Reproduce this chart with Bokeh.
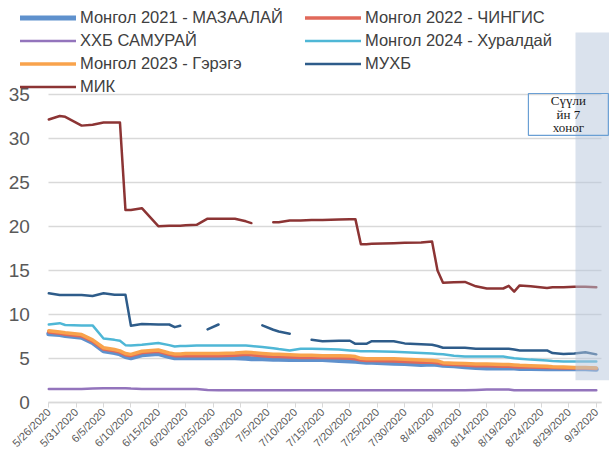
import math
import pandas as pd
from bokeh.plotting import figure
from bokeh.models import ColumnDataSource, FixedTicker, Legend, LegendItem, Range1d
from bokeh.core.properties import value
from bokeh.embed import file_html
from bokeh.resources import INLINE

nan = float("nan")

dates = ["5/26", "5/28", "5/29", "6/1", "6/3", "6/5", "6/7", "6/8", "6/9", "6/10",
         "6/12", "6/15", "6/17", "6/18", "6/19", "6/20", "6/22", "6/24", "6/26", "6/29",
         "7/1", "7/2", "7/4", "7/6", "7/7", "7/9", "7/11", "7/13", "7/15", "7/18",
         "7/20", "7/21", "7/22", "7/23", "7/24", "7/28", "7/30", "8/2", "8/4", "8/5",
         "8/6", "8/8", "8/10", "8/12", "8/14", "8/17", "8/18", "8/19", "8/20", "8/22",
         "8/25", "8/26", "8/28", "8/30", "9/1", "9/3"]

mongol_2021 = [7.8, 7.7, 7.6, 7.4, 6.8, 5.85, 5.65, 5.5, 5.2, 5.05,
               5.4, 5.55, 5.2, 5.05, 5.05, 5.05, 5.05, 5.05, 5.05, 5.05,
               5.0, 4.95, 4.95, 4.9, 4.9, 4.85, 4.85, 4.85, 4.85, 4.75,
               4.7, 4.65, 4.6, 4.55, 4.55, 4.45, 4.4, 4.3, 4.35, 4.3,
               4.2, 4.15, 4.05, 3.95, 3.9, 3.9, 3.9, 3.9, 3.85, 3.85,
               3.8, 3.8, 3.8, 3.8, 3.8, 3.75]
mongol_2022 = [8.0, 7.85, 7.75, 7.55, 6.95, 6.05, 5.85, 5.7, 5.4, 5.3,
               5.65, 5.8, 5.45, 5.3, 5.3, 5.3, 5.3, 5.3, 5.3, 5.35,
               5.45, 5.4, 5.3, 5.2, 5.2, 5.15, 5.1, 5.1, 5.1, 5.05,
               5.0, 4.95, 4.8, 4.75, 4.75, 4.7, 4.65, 4.55, 4.55, 4.5,
               4.35, 4.3, 4.25, 4.15, 4.15, 4.1, 4.1, 4.05, 4.0, 4.0,
               3.95, 3.95, 3.9, 3.9, 3.9, 3.85]
xxb_samurai = [1.5, 1.5, 1.5, 1.5, 1.55, 1.6, 1.6, 1.6, 1.6, 1.55,
               1.5, 1.5, 1.5, 1.5, 1.5, 1.5, 1.5, 1.4, 1.35, 1.35,
               1.35, 1.35, 1.35, 1.35, 1.35, 1.35, 1.35, 1.35, 1.35, 1.35,
               1.35, 1.35, 1.35, 1.35, 1.35, 1.35, 1.35, 1.35, 1.35, 1.35,
               1.35, 1.35, 1.35, 1.4, 1.45, 1.45, 1.45, 1.35, 1.35, 1.35,
               1.35, 1.35, 1.35, 1.35, 1.35, 1.35]
mongol_2024 = [8.85, 9.0, 8.8, 8.75, 8.75, 7.25, 7.1, 7.0, 6.5, 6.45,
               6.55, 6.75, 6.5, 6.35, 6.4, 6.4, 6.45, 6.45, 6.45, 6.45,
               6.45, 6.4, 6.3, 6.15, 6.05, 5.9, 6.1, 6.1, 6.05, 6.0,
               5.9, 5.85, 5.8, 5.8, 5.8, 5.75, 5.7, 5.6, 5.55, 5.5,
               5.45, 5.3, 5.2, 5.2, 5.2, 5.2, 5.1, 5.0, 4.95, 4.85,
               4.75, 4.7, 4.65, 4.65, 4.65, 4.65]
mongol_2023 = [8.15, 8.0, 7.9, 7.7, 7.1, 6.2, 6.0, 5.85, 5.55, 5.45,
               5.8, 5.95, 5.6, 5.5, 5.5, 5.55, 5.55, 5.55, 5.55, 5.6,
               5.7, 5.65, 5.55, 5.45, 5.45, 5.4, 5.35, 5.35, 5.3, 5.3,
               5.25, 5.2, 5.0, 4.95, 4.95, 4.95, 4.9, 4.8, 4.75, 4.7,
               4.5, 4.45, 4.4, 4.35, 4.35, 4.3, 4.3, 4.25, 4.2, 4.15,
               4.1, 4.05, 4.0, 3.95, 3.95, 3.9]
muxb = [12.4, 12.2, 12.2, 12.2, 12.1, 12.4, 12.25, 12.25, 12.25, 8.7,
        8.9, 8.85, 8.85, 8.55, 8.7, nan, nan, 8.3, 8.85, nan,
        nan, nan, 8.75, 8.25, 8.05, 7.8, nan, 7.1, 6.95, 7.0,
        7.0, 6.65, 6.65, 6.65, 6.95, 6.95, 6.7, 6.6, 6.55, 6.4,
        6.2, 6.2, 6.2, 6.1, 6.1, 6.1, 6.1, 6.0, 5.9, 5.9,
        5.9, 5.6, 5.5, 5.55, 5.7, 5.45]
mik = [32.2, 32.6, 32.5, 31.5, 31.6, 31.85, 31.85, 31.85, 21.9, 21.9,
       22.1, 20.05, 20.1, 20.1, 20.1, 20.15, 20.2, 20.9, 20.9, 20.9,
       20.6, 20.4, nan, 20.5, 20.5, 20.7, 20.7, 20.75, 20.75, 20.8,
       20.85, 20.85, 18.0, 18.0, 18.05, 18.1, 18.15, 18.2, 18.3, 15.0,
       13.6, 13.65, 13.7, 13.2, 12.95, 12.95, 13.25, 12.6, 13.3, 13.2,
       13.0, 13.1, 13.1, 13.15, 13.15, 13.1]

series_names = ["Монгол 2021 - МАЗААЛАЙ", "Монгол 2022 - ЧИНГИС", "ХХБ САМУРАЙ",
                "Монгол 2024 - Хуралдай", "Монгол 2023 - Гэрэгэ", "МУХБ", "МИК"]
series_values = [mongol_2021, mongol_2022, xxb_samurai, mongol_2024, mongol_2023, muxb, mik]
series_colors = ["#5F91CD", "#E1695A", "#9374BC", "#4FB7D6", "#F9A34C", "#2E5C8A", "#8C3434"]
series_widths = [5, 3.5, 2.5, 2.5, 3.5, 2.5, 2.5]

tick_labels = ["5/26/2020", "5/31/2020", "6/5/2020", "6/10/2020", "6/15/2020", "6/20/2020",
               "6/25/2020", "6/30/2020", "7/5/2020", "7/10/2020", "7/15/2020", "7/20/2020",
               "7/25/2020", "7/30/2020", "8/4/2020", "8/9/2020", "8/14/2020", "8/19/2020",
               "8/24/2020", "8/29/2020", "9/3/2020"]
y_ticks = [0, 5, 10, 15, 20, 25, 30, 35]

start = pd.to_datetime("5/26/2020", format="%m/%d/%Y")
x_days = [(pd.to_datetime(d + "/2020", format="%m/%d/%Y") - start).days for d in dates]
tick_days = [(pd.to_datetime(t, format="%m/%d/%Y") - start).days for t in tick_labels]

data = {"x": x_days}
for i, vals in enumerate(series_values):
    data[f"s{i}"] = vals
source = ColumnDataSource(data)

GRID_END = 100.95
p = figure(width=609, height=450, x_range=Range1d(-8.82, 102.41), y_range=Range1d(-5.50, 45.75),
           output_backend="svg", toolbar_location=None,
           min_border_left=0, min_border_right=0, min_border_top=0, min_border_bottom=0)
p.outline_line_color = None
p.background_fill_color = "white"
p.xgrid.visible = False

# y axis drawn at day 0, inside the frame
p.yaxis.fixed_location = 0
p.yaxis.ticker = FixedTicker(ticks=y_ticks)
p.yaxis.axis_line_color = None
p.yaxis.major_tick_line_color = None
p.yaxis.minor_tick_line_color = None
p.yaxis.major_label_text_font = "Liberation Sans"
p.yaxis.major_label_text_font_size = "19px"
p.yaxis.major_label_text_color = "#595959"
p.yaxis.major_label_standoff = 13
p.ygrid.grid_line_color = "#D9D9D9"
p.ygrid.grid_line_width = 1.5
p.ygrid.cross_bounds = (0, GRID_END)

# x axis drawn at value 0, inside the frame
p.xaxis.fixed_location = 0
p.xaxis.bounds = (0, GRID_END)
p.xaxis.ticker = FixedTicker(ticks=tick_days)
p.xaxis.major_label_overrides = {d: t for d, t in zip(tick_days, tick_labels)}
p.xaxis.major_label_orientation = math.pi / 4
p.xaxis.major_label_text_font = "Liberation Sans"
p.xaxis.major_label_text_font_size = "11px"
p.xaxis.major_label_text_color = "#595959"
p.xaxis.major_label_standoff = 3
p.xaxis.axis_line_color = "#D9D9D9"
p.xaxis.axis_line_width = 1.5
p.xaxis.major_tick_line_color = "#D9D9D9"
p.xaxis.major_tick_in = 0
p.xaxis.major_tick_out = 5
p.xaxis.minor_tick_line_color = None

renderers = []
for i in range(len(series_values)):
    r = p.line("x", f"s{i}", source=source, line_color=series_colors[i],
               line_width=series_widths[i], line_join="round", line_cap="round")
    renderers.append(r)

# shaded "last 7 days" band
p.quad(left=96.2, right=104, bottom=2.5, top=42.1, fill_color="#B5C5DB",
       fill_alpha=0.5, line_color=None)
# annotation box
p.quad(left=87.6, right=102.2, bottom=30.4, top=35.16, fill_color=None,
       line_color="#6A9FD4", line_width=1.2)
p.text(x=[94.9, 94.9, 94.9], y=[34.36, 32.82, 31.29], text=["Сүүли", "йн 7", "хоног"],
       text_align="center", text_baseline="middle", text_font=value("Liberation Serif"),
       text_font_size="13px", text_color="#1a1a1a")

def make_legend(idx, loc):
    leg = Legend(items=[LegendItem(label=series_names[i], renderers=[renderers[i]]) for i in idx],
                 location=loc, orientation="vertical")
    leg.border_line_color = None
    leg.background_fill_alpha = 0
    leg.padding = 0
    leg.margin = 0
    leg.spacing = 0
    leg.glyph_width = 56
    leg.glyph_height = 23
    leg.label_height = 23
    leg.label_standoff = 4
    leg.label_text_font = "Liberation Sans"
    leg.label_text_font_size = "16.5px"
    leg.label_text_color = "#404040"
    return leg

p.add_layout(make_legend([0, 2, 4, 6], (20, 352)), "center")
p.add_layout(make_legend([1, 3, 5], (305, 375)), "center")

open("out.html", "w").write(file_html(p, INLINE))
